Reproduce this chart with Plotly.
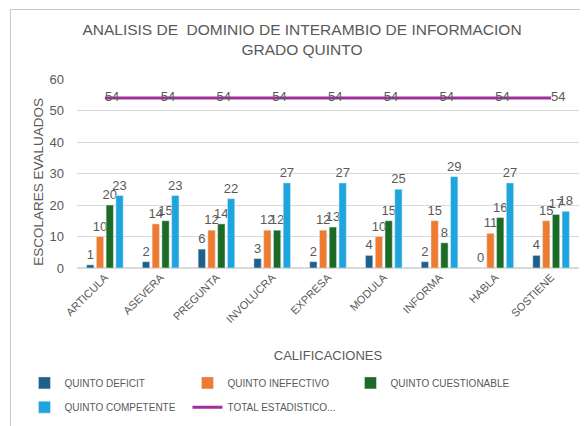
import plotly.graph_objects as go

categorias = ["ARTICULA", "ASEVERA", "PREGUNTA", "INVOLUCRA", "EXPRESA",
              "MODULA", "INFORMA", "HABLA", "SOSTIENE"]
deficit = [1, 2, 6, 3, 2, 4, 2, 0, 4]
inefectivo = [10, 14, 12, 12, 12, 10, 15, 11, 15]
cuestionable = [20, 15, 14, 12, 13, 15, 8, 16, 17]
competente = [23, 23, 22, 27, 27, 25, 29, 27, 18]
total = [54, 54, 54, 54, 54, 54, 54, 54, 54]

gris = "#595959"
fuente = "Liberation Sans"

fig = go.Figure()

series = [
    ("QUINTO DEFICIT", deficit, "#1f5f8b", "legend"),
    ("QUINTO INEFECTIVO", inefectivo, "#ee7b30", "legend"),
    ("QUINTO CUESTIONABLE", cuestionable, "#1b6b27", "legend"),
    ("QUINTO COMPETENTE", competente, "#1ea5dd", "legend2"),
]
for nombre, valores, color, ley in series:
    fig.add_trace(go.Bar(
        x=categorias, y=valores, name=nombre, legend=ley,
        marker_color=color,
        text=valores, textposition="outside", constraintext="none",
        textfont=dict(size=13, color=gris, family=fuente),
        cliponaxis=False,
    ))

fig.add_trace(go.Scatter(
    x=categorias, y=total, name="TOTAL ESTADISTICO...", legend="legend2",
    mode="lines+text", line=dict(color="#a1309b", width=3),
    text=total, textposition="middle right",
    textfont=dict(size=13, color=gris, family=fuente),
    cliponaxis=False,
))

leyenda = dict(
    orientation="h", xref="container", yref="container",
    x=0.028, xanchor="left", yanchor="middle",
    entrywidth=118, entrywidthmode="pixels",
    font=dict(size=10, color=gris, family=fuente),
    tracegroupgap=0, itemwidth=30, bgcolor="rgba(0,0,0,0)",
)

fig.update_layout(
    width=588, height=426,
    margin=dict(l=69, r=17, t=71, b=166, autoexpand=False),
    paper_bgcolor="white", plot_bgcolor="white",
    font=dict(family=fuente, color=gris, size=11),
    title=dict(
        text="ANALISIS DE  DOMINIO DE INTERAMBIO DE INFORMACION<br>GRADO QUINTO",
        x=0.5, xanchor="center", y=0.936, yanchor="top",
        font=dict(size=15.5, color=gris, family=fuente),
    ),
    barmode="group", bargap=0.3, bargroupgap=0.25,
    showlegend=True,
    legend=dict(leyenda, y=0.12),
    legend2=dict(leyenda, y=0.063),
    xaxis=dict(
        tickangle=-45, tickfont=dict(size=11, color=gris),
        showgrid=False, showline=False, ticks="",
        title=dict(text="CALIFICACIONES", font=dict(size=13, color=gris), standoff=26),
    ),
    yaxis=dict(
        range=[0, 60], dtick=10, gridcolor="#d9d9d9", zeroline=True,
        zerolinecolor="#d9d9d9", tickfont=dict(size=13, color=gris),
        ticklabelstandoff=12,
    ),
    annotations=[
        dict(
            text="ESCOLARES EVALUADOS", textangle=-90,
            xref="paper", yref="paper", x=-0.078, y=0.455,
            xanchor="center", yanchor="middle", showarrow=False,
            font=dict(size=13.5, color=gris, family=fuente),
        ),
        dict(
            text=" ", xref="paper", yref="paper", x=-0.1335, y=1.37,
            xanchor="left", yanchor="top", showarrow=False,
            width=620, height=440, borderpad=0,
            bordercolor="#c8c8c8", borderwidth=1,
        ),
    ],
)

fig.write_html("out.html")
